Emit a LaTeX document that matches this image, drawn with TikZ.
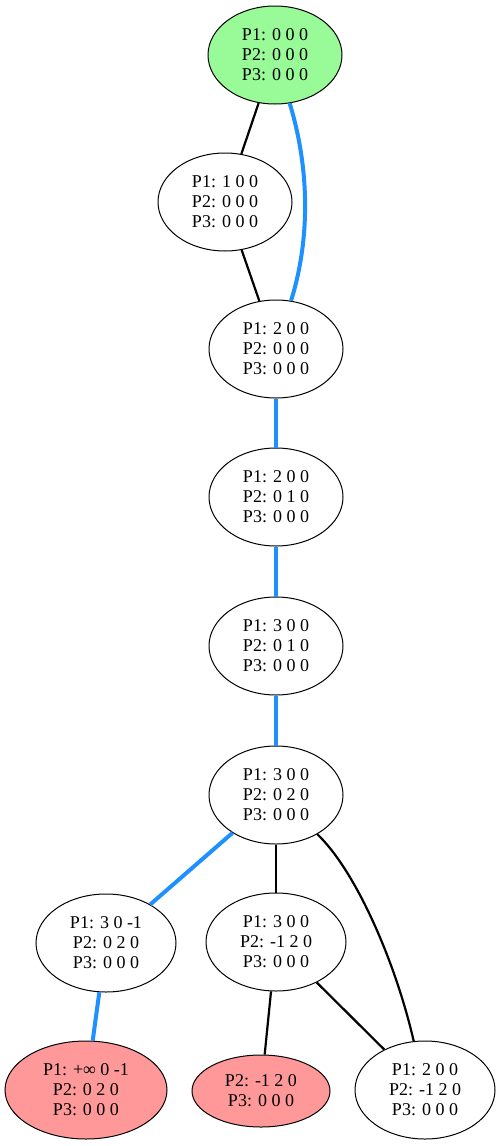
\documentclass[tikz,border=0pt]{standalone}
\usepackage{fontspec}
\setmainfont{Liberation Serif}
\usetikzlibrary{shapes.geometric}
\usetikzlibrary{positioning}

\tikzset{
  state/.style={draw=black, ellipse, line width=1pt, inner sep=0pt, align=center,
    minimum width=134pt, minimum height=98pt, font=\fontsize{18}{20}\selectfont},
  plain/.style={black, line width=2.2pt},
  chosen/.style={blue!60!cyan, line width=4pt}
}

\begin{document}
\begin{tikzpicture}[x=1pt, y=-1pt]
   		\definecolor{StartFill}{RGB}{152,251,152};
   		\definecolor{DeadFill}{RGB}{255,153,153};
   		\definecolor{PathBlue}{RGB}{30,144,255};
   		\useasboundingbox (0,0) rectangle (500,1146);
   		
   		\node[state, fill=StartFill](st0) at (275,55){P1: 0 0 0\\P2: 0 0 0\\P3: 0 0 0};
   		\node[state](st1) at (225,202){P1: 1 0 0\\P2: 0 0 0\\P3: 0 0 0};
   		\node[state](st2) at (276,349){P1: 2 0 0\\P2: 0 0 0\\P3: 0 0 0};
   		\node[state](st3) at (276,497){P1: 2 0 0\\P2: 0 1 0\\P3: 0 0 0};
   		\node[state](st4) at (276,646){P1: 3 0 0\\P2: 0 1 0\\P3: 0 0 0};
   		\node[state](st5) at (276,795){P1: 3 0 0\\P2: 0 2 0\\P3: 0 0 0};
   		
   		\node[state, minimum width=140pt](st6) at (106,943){P1: 3 0 -1\\P2: 0 2 0\\P3: 0 0 0};
   		\node[state, minimum width=140pt](st7) at (276,942){P1: 3 0 0\\P2: -1 2 0\\P3: 0 0 0};
   		
   		\node[state, fill=DeadFill, minimum width=162pt](st8) at (86,1090){P1: +∞ 0 -1\\P2: 0 2 0\\P3: 0 0 0};
   		\node[state, fill=DeadFill, minimum width=138pt, minimum height=72pt](st9) at (261,1091){P2: -1 2 0\\P3: 0 0 0};
   		\node[state, minimum width=140pt](st10) at (425,1090){P1: 2 0 0\\P2: -1 2 0\\P3: 0 0 0};
   		
   		\draw [plain] (st0) -- (st1);
   		\draw [plain] (st1) -- (st2);
   		\draw [chosen, PathBlue] (st0) .. controls (310,170) and (310,240) .. (st2);
   		\draw [chosen, PathBlue] (st2) -- (st3);
   		\draw [chosen, PathBlue] (st3) -- (st4);
   		\draw [chosen, PathBlue] (st4) -- (st5);
   		\draw [chosen, PathBlue] (st5) -- (st6);
   		\draw [plain] (st5) -- (st7);
   		\draw [plain] (st5) .. controls (355,870) and (395,960) .. (st10);
   		\draw [chosen, PathBlue] (st6) -- (st8);
   		\draw [plain] (st7) -- (st9);
   		\draw [plain] (st7) -- (st10);
   		
\end{tikzpicture}
\end{document}
